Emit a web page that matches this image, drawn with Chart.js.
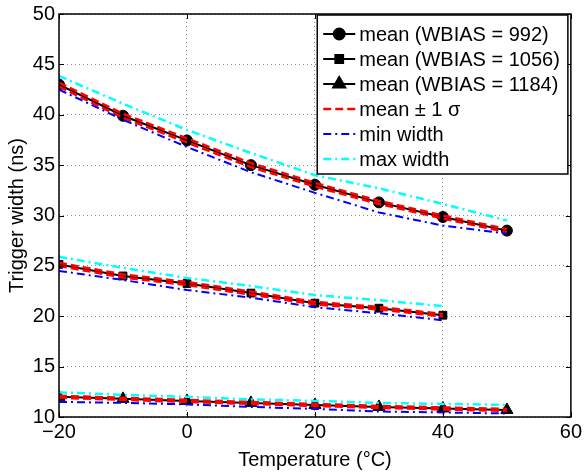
<!DOCTYPE html>
<html>
<head>
<meta charset="utf-8">
<script src="https://cdn.jsdelivr.net/npm/chart.js@4"></script>
<style>
html, body { margin: 0; padding: 0; background: #fff; }
</style>
</head>
<body>
<canvas id="widthChart" width="587" height="472"></canvas>
<script>
// temperatures (deg C)
const temps = [-20, -10, 0, 10, 20, 30, 40, 50];
const temps1056 = [-20, -10, 0, 10, 20, 30, 40];

// WBIAS = 992
const mean992 = [43.0, 39.9, 37.45, 35.0, 33.05, 31.3, 29.85, 28.5];
const sigma992 = [0.2, 0.2, 0.2, 0.2, 0.18, 0.15, 0.15, 0.15];
const min992 = [42.5, 39.5, 36.8, 34.3, 32.25, 30.3, 29.0, 28.2];
const max992 = [43.85, 41.1, 38.5, 36.2, 34.0, 32.7, 31.15, 29.5];

// WBIAS = 1056
const mean1056 = [25.15, 24.0, 23.25, 22.3, 21.3, 20.8, 20.1];
const sigma1056 = [0.15, 0.15, 0.15, 0.15, 0.12, 0.12, 0.12];
const min1056 = [24.5, 23.6, 22.6, 21.85, 20.9, 20.3, 19.6];
const max1056 = [25.9, 24.8, 23.8, 23.0, 22.1, 21.6, 21.0];

// WBIAS = 1184
const mean1184 = [12.0, 11.8, 11.6, 11.4, 11.2, 11.0, 10.85, 10.7];
const sigma1184 = [0.1, 0.1, 0.1, 0.1, 0.1, 0.1, 0.1, 0.1];
const min1184 = [11.5, 11.4, 11.25, 11.0, 10.8, 10.55, 10.45, 10.35];
const max1184 = [12.45, 12.2, 12.0, 11.75, 11.6, 11.4, 11.3, 11.2];

const yTicks = [10, 15, 20, 25, 30, 35, 40, 45, 50];
const xTicks = [-20, 0, 20, 40, 60];

const FONT = "'Liberation Sans', Arial, sans-serif";
const pts = (xs, ys) => xs.map((x, i) => ({x: x, y: ys[i]}));
const shift = (ys, s, k) => ys.map((v, i) => v + k * s[i]);

const meanStyle = { borderColor: '#000', backgroundColor: '#000', borderWidth: 2, pointBorderWidth: 1, order: 4 };
const sigStyle = { borderColor: '#ff0000', borderWidth: 2.5, borderDash: [8, 4], pointRadius: 0, order: 3 };
const minStyle = { borderColor: '#0000ff', borderWidth: 2, borderDash: [8, 4, 2, 4], pointRadius: 0, order: 2 };
const maxStyle = { borderColor: '#00ffff', borderWidth: 2.5, borderDash: [8, 4, 2, 4], pointRadius: 0, order: 1 };

const groups = [
    { xs: temps, mean: mean992, sigma: sigma992, min: min992, max: max992, marker: 'circle', r: 5.5 },
    { xs: temps1056, mean: mean1056, sigma: sigma1056, min: min1056, max: max1056, marker: 'rect', r: 5.5 },
    { xs: temps, mean: mean1184, sigma: sigma1184, min: min1184, max: max1184, marker: 'triangle', r: 7 }
];

const datasets = [];
groups.forEach(g => {
    datasets.push(Object.assign({ data: pts(g.xs, g.mean), pointStyle: g.marker, pointRadius: g.r }, meanStyle));
    datasets.push(Object.assign({ data: pts(g.xs, shift(g.mean, g.sigma, 1)) }, sigStyle));
    datasets.push(Object.assign({ data: pts(g.xs, shift(g.mean, g.sigma, -1)) }, sigStyle));
    datasets.push(Object.assign({ data: pts(g.xs, g.min) }, minStyle));
    datasets.push(Object.assign({ data: pts(g.xs, g.max) }, maxStyle));
});

const legendItems = [
    { text: 'mean (WBIAS = 992)', style: meanStyle, marker: 'circle', r: 5.5 },
    { text: 'mean (WBIAS = 1056)', style: meanStyle, marker: 'rect', r: 5.5 },
    { text: 'mean (WBIAS = 1184)', style: meanStyle, marker: 'triangle', r: 7 },
    { text: 'mean \u00b1 1 \u03c3', style: sigStyle },
    { text: 'min width', style: minStyle },
    { text: 'max width', style: maxStyle }
];

// box, inward ticks and legend in the MATLAB look
const matlabAxes = {
    id: 'matlabAxes',
    afterDatasetsDraw(chart) {
        const ctx = chart.ctx, a = chart.chartArea;
        const xs = chart.scales.x, ys = chart.scales.y;
        ctx.save();
        ctx.strokeStyle = '#000';
        ctx.lineWidth = 1.5;
        ctx.setLineDash([]);
        ctx.strokeRect(a.left, a.top, a.right - a.left, a.bottom - a.top);
        ctx.lineWidth = 1;
        ctx.beginPath();
        xTicks.forEach(v => {
            const px = Math.round(xs.getPixelForValue(v)) + 0.5;
            ctx.moveTo(px, a.bottom); ctx.lineTo(px, a.bottom - 5);
            ctx.moveTo(px, a.top); ctx.lineTo(px, a.top + 5);
        });
        yTicks.forEach(v => {
            const py = Math.round(ys.getPixelForValue(v)) + 0.5;
            ctx.moveTo(a.left, py); ctx.lineTo(a.left + 5, py);
            ctx.moveTo(a.right, py); ctx.lineTo(a.right - 5, py);
        });
        ctx.stroke();
        ctx.restore();
    },
    afterDraw(chart) {
        const ctx = chart.ctx, a = chart.chartArea;
        ctx.save();
        ctx.font = '20px ' + FONT;
        const textW = Math.max(...legendItems.map(it => ctx.measureText(it.text).width));
        const sample = 32, rowH = 25;
        const w = 6 + sample + 4 + textW + 8;
        const h = 19 + rowH * (legendItems.length - 1) + 15;
        const right = a.right - 3, top = a.top + 1;
        const left = right - w;
        ctx.fillStyle = '#fff';
        ctx.fillRect(left, top, w, h);
        ctx.strokeStyle = '#000';
        ctx.lineWidth = 1.5;
        ctx.strokeRect(left, top, w, h);
        legendItems.forEach((it, i) => {
            const y = top + 19 + i * rowH;
            const x0 = left + 6;
            ctx.strokeStyle = it.style.borderColor;
            ctx.lineWidth = it.style.borderWidth;
            ctx.setLineDash(it.style.borderDash || []);
            ctx.beginPath();
            ctx.moveTo(x0, y); ctx.lineTo(x0 + sample, y);
            ctx.stroke();
            ctx.setLineDash([]);
            if (it.marker) {
                ctx.fillStyle = '#000';
                ctx.strokeStyle = '#000';
                Chart.helpers.drawPoint(ctx, { pointStyle: it.marker, radius: it.r, rotation: 0, borderWidth: 1 }, x0 + sample / 2, y);
            }
            ctx.fillStyle = '#000';
            ctx.textBaseline = 'middle';
            ctx.textAlign = 'left';
            ctx.fillText(it.text, x0 + sample + 4, y + 1);
        });
        ctx.restore();
    }
};

const ctx = document.getElementById('widthChart').getContext('2d');
const widthChart = new Chart(ctx, {
    type: 'line',
    data: { datasets: datasets },
    plugins: [matlabAxes],
    options: {
        responsive: false,
        animation: false,
        layout: { padding: { top: 12, right: 15, left: 0, bottom: 0 } },
        plugins: { legend: { display: false }, tooltip: { enabled: false } },
        elements: { line: { tension: 0, fill: false } },
        scales: {
            x: {
                type: 'linear',
                min: -20, max: 60,
                afterBuildTicks: s => { s.ticks = xTicks.map(v => ({ value: v })); },
                afterFit: s => { s.height = 55; },
                grid: { color: 'rgba(0,0,0,0.45)', drawTicks: false, lineWidth: 1 },
                border: { display: false, dash: [1, 3] },
                ticks: {
                    padding: 5, color: '#000', font: { family: FONT, size: 20, lineHeight: 1 },
                    maxRotation: 0,
                    callback: v => v < 0 ? '\u2212' + Math.abs(v) : String(v)
                },
                title: { display: true, text: 'Temperature (\u00b0C)', color: '#000', font: { family: FONT, size: 20 }, padding: { top: 0, bottom: 0 } }
            },
            y: {
                min: 10, max: 50,
                afterBuildTicks: s => { s.ticks = yTicks.map(v => ({ value: v })); },
                afterFit: s => { s.width = 59; },
                grid: { color: 'rgba(0,0,0,0.45)', drawTicks: false, lineWidth: 1 },
                border: { display: false, dash: [1, 3] },
                ticks: { padding: 4, color: '#000', font: { family: FONT, size: 20, lineHeight: 1 } },
                title: { display: true, text: 'Trigger width (ns)', color: '#000', font: { family: FONT, size: 20 }, padding: { top: 5, bottom: 0 } }
            }
        }
    }
});
</script>
</body>
</html>
